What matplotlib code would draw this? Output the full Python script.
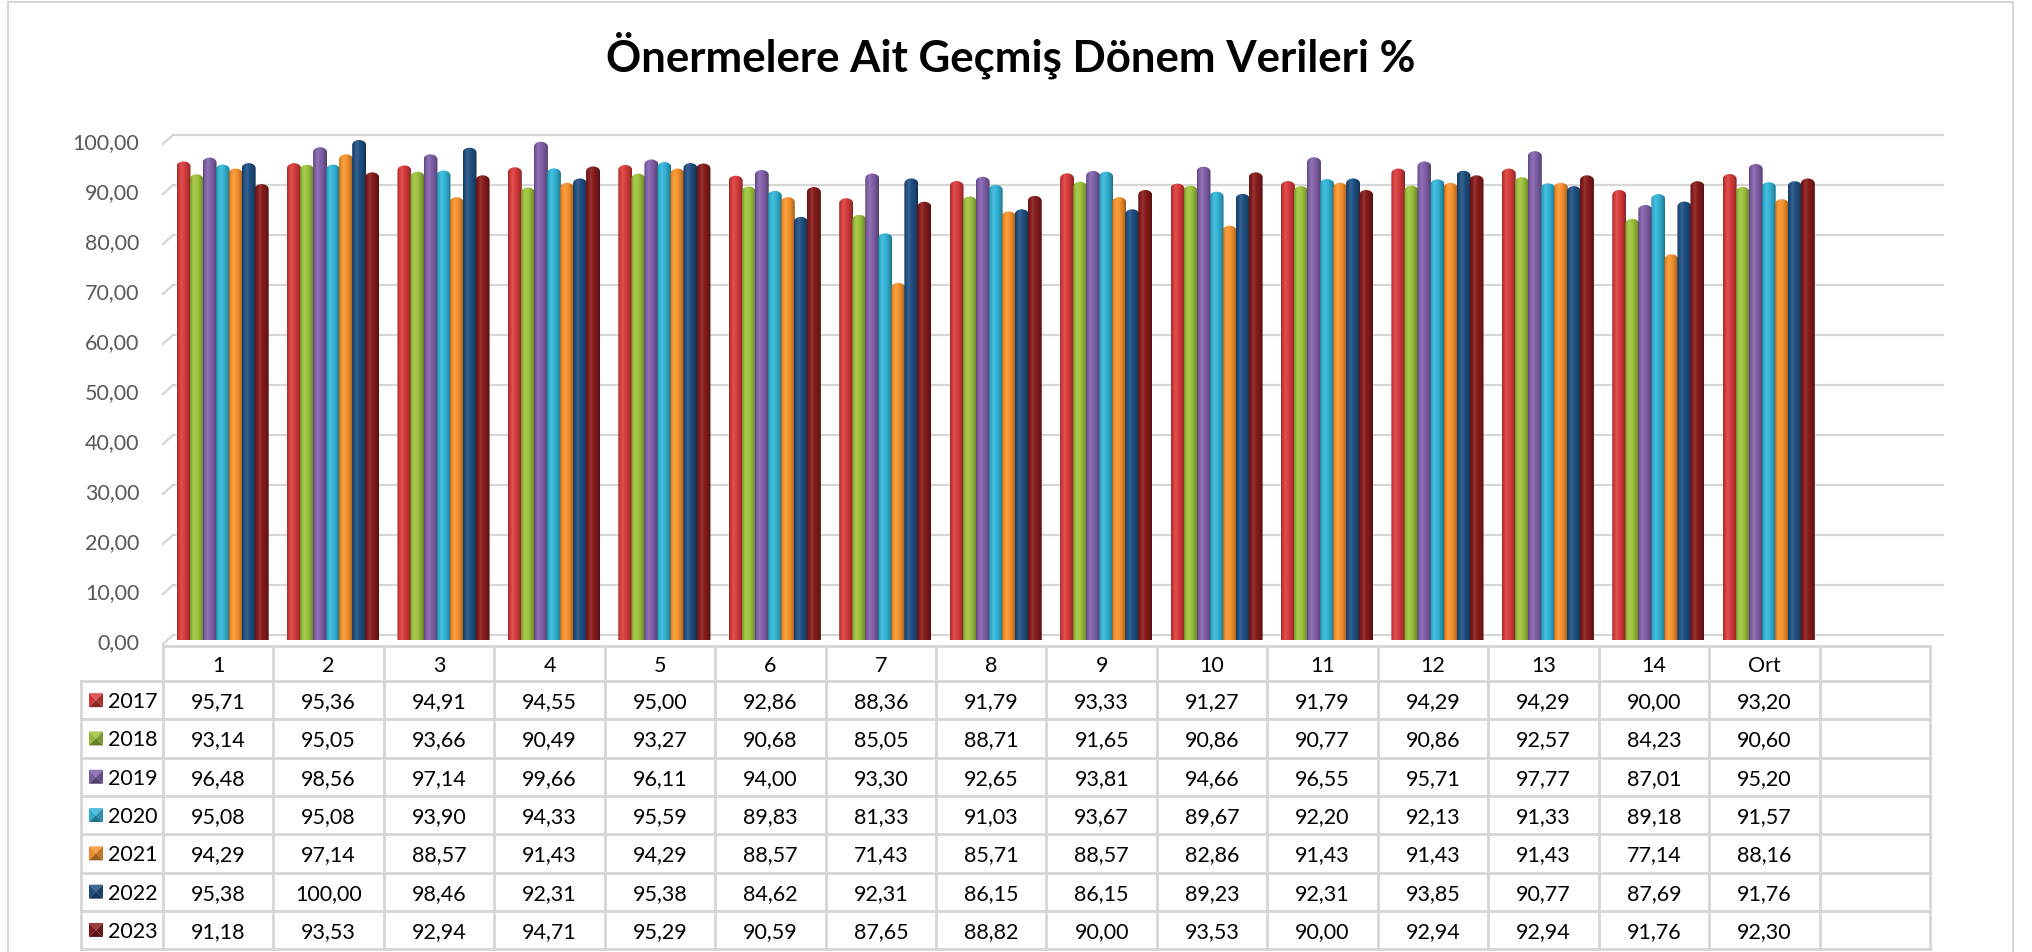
import numpy as np
import matplotlib.pyplot as plt
from matplotlib.path import Path
from matplotlib.patches import PathPatch, Rectangle, Polygon
from matplotlib.colors import to_rgb
from matplotlib.ticker import FuncFormatter

plt.rcParams['font.family'] = ['Lato', 'DejaVu Sans']

# data
categories = ['1', '2', '3', '4', '5', '6', '7', '8', '9', '10', '11', '12', '13', '14', 'Ort']
years = ['2017', '2018', '2019', '2020', '2021', '2022', '2023']
v2017 = [95.71, 95.36, 94.91, 94.55, 95.00, 92.86, 88.36, 91.79, 93.33, 91.27, 91.79, 94.29, 94.29, 90.00, 93.20]
v2018 = [93.14, 95.05, 93.66, 90.49, 93.27, 90.68, 85.05, 88.71, 91.65, 90.86, 90.77, 90.86, 92.57, 84.23, 90.60]
v2019 = [96.48, 98.56, 97.14, 99.66, 96.11, 94.00, 93.30, 92.65, 93.81, 94.66, 96.55, 95.71, 97.77, 87.01, 95.20]
v2020 = [95.08, 95.08, 93.90, 94.33, 95.59, 89.83, 81.33, 91.03, 93.67, 89.67, 92.20, 92.13, 91.33, 89.18, 91.57]
v2021 = [94.29, 97.14, 88.57, 91.43, 94.29, 88.57, 71.43, 85.71, 88.57, 82.86, 91.43, 91.43, 91.43, 77.14, 88.16]
v2022 = [95.38, 100.00, 98.46, 92.31, 95.38, 84.62, 92.31, 86.15, 86.15, 89.23, 92.31, 93.85, 90.77, 87.69, 91.76]
v2023 = [91.18, 93.53, 92.94, 94.71, 95.29, 90.59, 87.65, 88.82, 90.00, 93.53, 90.00, 92.94, 92.94, 91.76, 92.30]
series = [v2017, v2018, v2019, v2020, v2021, v2022, v2023]
colors = ['#D73B3B', '#9CC23C', '#8160A9', '#32B4D6', '#F7922C', '#1F4F82', '#861B1B']

title = 'Önermelere Ait Geçmiş Dönem Verileri %'

W, H = 2033, 953
GRID = '#D6D6D6'


def fx(px):
    return px / W


def fy(py):
    return 1 - py / H


def fmt(v):
    return f'{v:.2f}'.replace('.', ',')


def shade(color, f):
    c = np.array(to_rgb(color))
    if f >= 1:
        return c + (1 - c) * (f - 1)
    return c * f


fig = plt.figure(figsize=(W / 100, H / 100), dpi=100)

# outer chart border
fig.add_artist(Rectangle((fx(8), fy(953 + 10)), fx(2013 - 8), (953 + 10 - 3) / H,
                         transform=fig.transFigure, fill=False, edgecolor=GRID, lw=1.5))

fig.text(0.497, fy(55), title, ha='center', va='center', fontsize=31.5, fontweight='bold', color='black')

# bar axes: x from 163 to 1930 px, value 0 at 641 px, 100 at 141 px
ax = fig.add_axes([fx(163), fy(641), fx(1930 - 163), (641 - 141) / H])
ax.set_xlim(-0.5, 15.5)
ax.set_ylim(0, 100)
for s in ax.spines.values():
    s.set_visible(False)
ax.set_xticks([])
ax.set_yticks(np.arange(0, 101, 10))
ax.yaxis.set_major_formatter(FuncFormatter(lambda v, p: fmt(v)))
ax.tick_params(axis='y', length=0, pad=17, labelsize=15.5, labelcolor='#595959')

# gridlines with a little perspective at the left
for v in np.arange(0, 101, 10):
    ax.plot([-0.41, 15.62], [v + 1, v + 1], color=GRID, lw=1.6, clip_on=False, zorder=0)
    ax.plot([-0.5, -0.41], [v - 0.8, v + 1], color=GRID, lw=1.6, clip_on=False, zorder=0)

# cylinder bars
step = 0.118
bw = 0.126
cap = 1.0
prof_t = [0, 0.12, 0.32, 0.6, 0.85, 1.0]
prof_f = [0.72, 0.95, 1.12, 0.97, 0.8, 0.62]
tt = np.linspace(0, 1, 40)
ff = np.interp(tt, prof_t, prof_f)
for si, vals in enumerate(series):
    grad = np.array([[shade(colors[si], f) for f in ff]])
    for ci, v in enumerate(vals):
        xc = ci + (si - 3) * step + 0.04
        x0, x1 = xc - bw / 2, xc + bw / 2
        th = np.linspace(0, np.pi, 25)
        arc = np.column_stack([xc + bw / 2 * np.cos(th), v - cap + cap * np.sin(th)])
        verts = np.vstack([[x0, 0], [x1, 0], [x1, v - cap], arc, [x0, 0]])
        codes = [Path.MOVETO] + [Path.LINETO] * (len(verts) - 2) + [Path.CLOSEPOLY]
        patch = PathPatch(Path(verts, codes), transform=ax.transData, facecolor='none',
                          edgecolor='none', zorder=2 + si * 0.01)
        ax.add_patch(patch)
        im = ax.imshow(grad, extent=[x0, x1, 0, v + 0.1], aspect='auto',
                       interpolation='bilinear', zorder=2 + si * 0.01)
        im.set_clip_path(patch)
ax.set_xlim(-0.5, 15.5)
ax.set_ylim(0, 100)

# data table below the bars
tx = fig.add_axes([fx(81), fy(953), fx(1930 - 81), (953 - 647) / H])
left = -0.5 - (163 - 81) / 110.44
tx.set_xlim(left, 15.5)
tx.set_ylim(306, 0)
tx.axis('off')
hdr = 35
rh = 38.3
bottom = hdr + 7 * rh
tx.plot([-0.5, 15.5], [0, 0], color=GRID, lw=2, clip_on=False)
for k in range(17):
    tx.plot([-0.5 + k, -0.5 + k], [0, bottom], color=GRID, lw=2, clip_on=False)
tx.plot([left, left], [hdr, bottom], color=GRID, lw=2, clip_on=False)
for r in range(8):
    tx.plot([left, 15.5], [hdr + r * rh, hdr + r * rh], color=GRID, lw=2, clip_on=False)

for ci, c in enumerate(categories):
    tx.text(ci, hdr / 2 + 1, c, ha='center', va='center', fontsize=15.5, color='black')

kw = 14 / 110.44
for si, vals in enumerate(series):
    yc = hdr + (si + 0.5) * rh
    kx0 = (89 - 163) / 110.44 - 0.5
    kx1 = kx0 + kw
    y0, y1 = yc - 7, yc + 7
    mx, my = (kx0 + kx1) / 2, yc
    col = colors[si]
    tris = [([(kx0, y0), (kx1, y0), (mx, my)], 1.15),
            ([(kx0, y0), (kx0, y1), (mx, my)], 0.95),
            ([(kx1, y0), (kx1, y1), (mx, my)], 0.8),
            ([(kx0, y1), (kx1, y1), (mx, my)], 0.65)]
    for pts, f in tris:
        tx.add_patch(Polygon(pts, closed=True, facecolor=shade(col, f), edgecolor='none', clip_on=False))
    tx.text((108 - 163) / 110.44 - 0.5, yc + 1, years[si], ha='left', va='center', fontsize=15.5, color='black')
    for ci, v in enumerate(vals):
        tx.text(ci, yc + 1, fmt(v), ha='center', va='center', fontsize=15.5, color='black')

fig.savefig('out.png', dpi=100)
